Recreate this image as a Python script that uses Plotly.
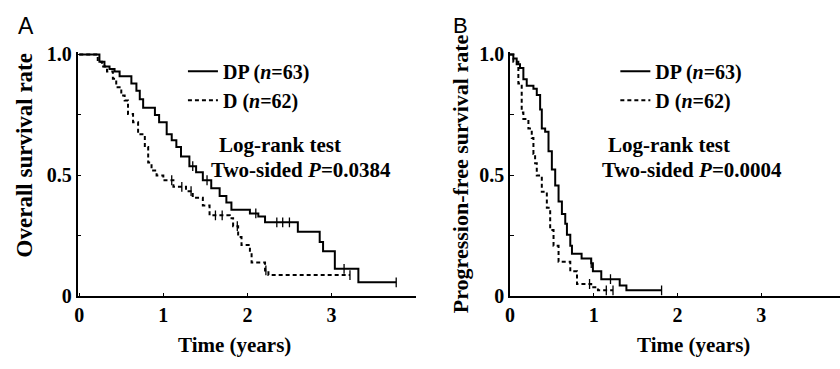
import plotly.graph_objects as go

# ---------------- data ----------------
# Panel A: overall survival (years, survival proportion), step functions
os_dp_t = [0, 0.24, 0.30, 0.36, 0.42, 0.48, 0.62, 0.68, 0.72, 0.76, 0.90, 0.95, 1.04, 1.10, 1.155, 1.21,
           1.31, 1.39, 1.47, 1.57, 1.67, 1.75, 1.81, 2.03, 2.13, 2.21, 2.60, 2.86, 2.90, 3.04, 3.32, 3.77]
os_dp_s = [1.0, 0.97, 0.95, 0.94, 0.93, 0.91, 0.88, 0.85, 0.815, 0.78, 0.75, 0.72, 0.67, 0.645, 0.617, 0.578,
           0.538, 0.513, 0.48, 0.447, 0.415, 0.388, 0.358, 0.343, 0.33, 0.306, 0.267, 0.225, 0.186, 0.114, 0.058, 0.058]
os_d_t = [0, 0.22, 0.27, 0.33, 0.40, 0.44, 0.50, 0.54, 0.58, 0.64, 0.70, 0.78, 0.82, 0.86, 0.92, 1.00, 1.12,
          1.27, 1.35, 1.47, 1.55, 1.79, 1.83, 1.89, 1.93, 2.03, 2.05, 2.21, 2.25, 3.22]
os_d_s = [1.0, 0.97, 0.95, 0.93, 0.90, 0.865, 0.83, 0.81, 0.754, 0.72, 0.67, 0.617, 0.553, 0.52, 0.50, 0.48, 0.453,
          0.435, 0.408, 0.376, 0.335, 0.323, 0.29, 0.245, 0.212, 0.18, 0.14, 0.107, 0.088, 0.088]
os_dp_cens = [1.35, 1.52, 2.10, 2.35, 2.42, 2.50, 3.15, 3.77]
os_d_cens = [1.10, 1.22, 1.33, 1.62, 1.70, 1.88, 2.22, 3.22]

# Panel B: progression-free survival
pfs_dp_t = [0, 0.04, 0.08, 0.12, 0.16, 0.20, 0.28, 0.32, 0.36, 0.38, 0.42, 0.46, 0.50, 0.54, 0.58,
            0.62, 0.66, 0.68, 0.72, 0.74, 0.855, 0.97, 0.99, 1.09, 1.31, 1.39, 1.81]
pfs_dp_s = [1.0, 0.983, 0.96, 0.944, 0.898, 0.871, 0.858, 0.832, 0.773, 0.694, 0.681, 0.60, 0.524, 0.458, 0.392,
            0.34, 0.30, 0.255, 0.209, 0.176, 0.156, 0.137, 0.104, 0.071, 0.045, 0.025, 0.025]
pfs_d_t = [0, 0.04, 0.10, 0.14, 0.16, 0.22, 0.26, 0.28, 0.30, 0.32, 0.38, 0.44, 0.48, 0.52, 0.58, 0.72,
           0.80, 0.97, 1.05, 1.23]
pfs_d_s = [1.0, 0.97, 0.88, 0.76, 0.733, 0.694, 0.655, 0.589, 0.55, 0.50, 0.432, 0.366, 0.274, 0.209, 0.143,
           0.104, 0.051, 0.038, 0.025, 0.025]
pfs_dp_cens = [0.97, 1.20, 1.81]
pfs_d_cens = [0.95, 1.15, 1.23]

series_names = ["DP (<i>n</i>=63)", "D (<i>n</i>=62)"]
pvalues = ["0.0384", "0.0004"]
x_ticks = [0, 1, 2, 3]
y_ticks = [0, 0.25, 0.5, 0.75, 1.0]
y_ticktext = ["0", "", "0.5", "", "1.0"]

SERIF = "Liberation Serif, Times New Roman, serif"


def step_at(ts, ss, x):
    v = ss[0]
    for t, s in zip(ts, ss):
        if t <= x:
            v = s
    return v


fig = go.Figure()

panels = [
    ("x", "y", "legend", os_dp_t, os_dp_s, os_d_t, os_d_s, os_dp_cens, os_d_cens),
    ("x2", "y2", "legend2", pfs_dp_t, pfs_dp_s, pfs_d_t, pfs_d_s, pfs_dp_cens, pfs_d_cens),
]
for xa, ya, lg, t1, s1, t2, s2, c1, c2 in panels:
    fig.add_trace(go.Scatter(x=t1, y=s1, mode="lines", line=dict(color="black", width=2, shape="hv"),
                             name=series_names[0], xaxis=xa, yaxis=ya, legend=lg))
    fig.add_trace(go.Scatter(x=t2, y=s2, mode="lines",
                             line=dict(color="black", width=2, shape="hv", dash="4px,3px"),
                             name=series_names[1], xaxis=xa, yaxis=ya, legend=lg))
    fig.add_trace(go.Scatter(x=c1, y=[step_at(t1, s1, c) for c in c1], mode="markers",
                             marker=dict(symbol="line-ns", size=7, line=dict(color="black", width=1.3)),
                             showlegend=False, xaxis=xa, yaxis=ya, hoverinfo="skip"))
    fig.add_trace(go.Scatter(x=c2, y=[step_at(t2, s2, c) for c in c2], mode="markers",
                             marker=dict(symbol="line-ns", size=7, line=dict(color="black", width=1.3)),
                             showlegend=False, xaxis=xa, yaxis=ya, hoverinfo="skip"))

W, H = 840, 369


def px(x):
    return x / W


def py(y):
    return 1 - y / H


ydom = [py(304), py(304 - 1.01 * 255)]
axis_common = dict(showline=True, linecolor="black", linewidth=1.5, ticks="inside", ticklen=4,
                   tickcolor="black", showgrid=False, zeroline=False,
                   tickfont=dict(family=SERIF, size=20, color="black", weight="bold"))

legend_font = dict(family=SERIF, size=20, color="black", weight="bold")
fig.update_layout(
    width=W, height=H, margin=dict(l=0, r=0, t=0, b=0),
    paper_bgcolor="white", plot_bgcolor="white",
    xaxis=dict(domain=[px(73), px(413)], range=[-0.02, 4.0], tickvals=x_ticks, anchor="y", **axis_common),
    yaxis=dict(domain=ydom, range=[0, 1.01], tickvals=y_ticks, ticktext=y_ticktext, anchor="x", **axis_common),
    xaxis2=dict(domain=[px(508), 1.0], range=[0, 3.94], tickvals=x_ticks, anchor="y2", **axis_common),
    yaxis2=dict(domain=ydom, range=[0, 1.01], tickvals=y_ticks, ticktext=y_ticktext, anchor="x2", **axis_common),
    legend=dict(x=px(179), y=py(46), xanchor="left", yanchor="top", bgcolor="rgba(0,0,0,0)",
                font=legend_font, tracegroupgap=0),
    legend2=dict(x=px(614), y=py(46), xanchor="left", yanchor="top", bgcolor="rgba(0,0,0,0)",
                 font=legend_font, tracegroupgap=0),
    showlegend=True,
)

bold = dict(family=SERIF, color="black", weight="bold")
sans = "Liberation Sans, Arial, sans-serif"
ann = [
    dict(text="A", x=px(21), y=py(19), font=dict(family=sans, size=23, color="black")),
    dict(text="B", x=px(458), y=py(18), font=dict(family=sans, size=22, color="black")),
    dict(text="Overall survival rate", x=px(19.5), y=py(155), textangle=-90, font=dict(size=23, **bold)),
    dict(text="Progression-free survival rate", x=px(459), y=py(175), textangle=-90, font=dict(size=22, **bold)),
    dict(text="Time (years)", x=px(231), y=py(355), font=dict(size=21, **bold)),
    dict(text="Time (years)", x=px(693), y=py(355), font=dict(size=21, **bold)),
    dict(text="Log-rank test", x=px(277), y=py(144), font=dict(size=21, **bold)),
    dict(text="Two-sided <i>P</i>=" + pvalues[0], x=px(298), y=py(171), font=dict(size=21, **bold)),
    dict(text="Log-rank test", x=px(668), y=py(144), font=dict(size=21, **bold)),
    dict(text="Two-sided <i>P</i>=" + pvalues[1], x=px(691), y=py(171), font=dict(size=21, **bold)),
]
for a in ann:
    fig.add_annotation(xref="paper", yref="paper", xanchor="center", yanchor="middle", showarrow=False, **a)

fig.write_html("out.html")
